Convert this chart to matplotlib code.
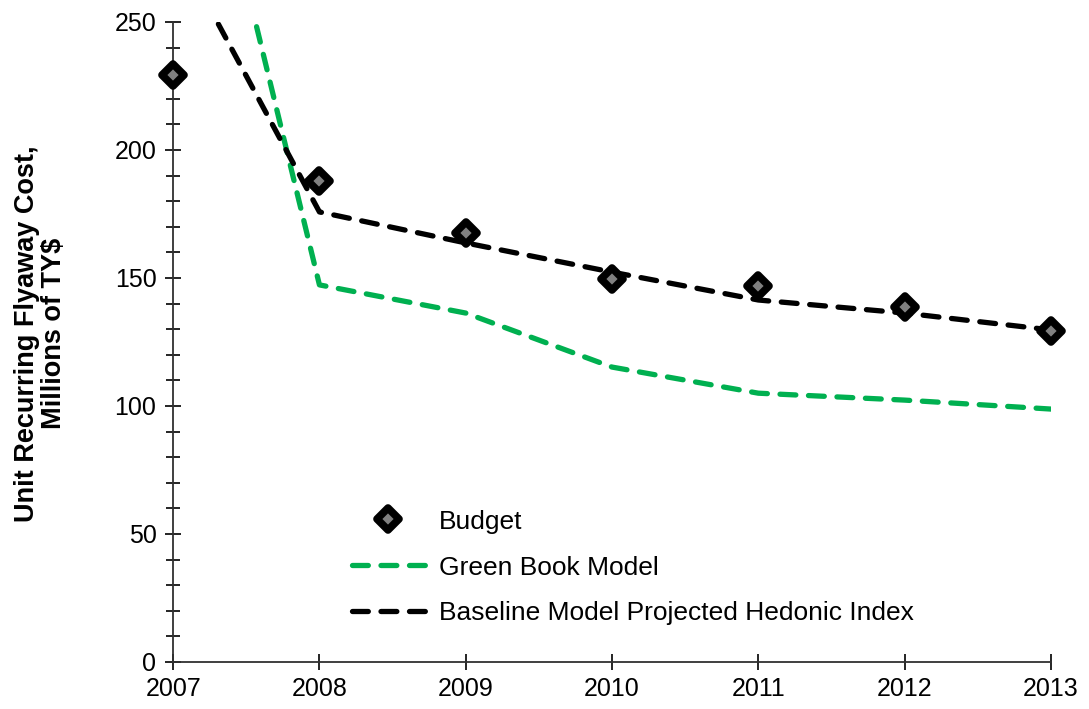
import numpy as np
import matplotlib.pyplot as plt
from matplotlib.ticker import MultipleLocator
from matplotlib.markers import MarkerStyle

plt.rcParams['font.family'] = ['Liberation Sans', 'DejaVu Sans']

years = [2007, 2008, 2009, 2010, 2011, 2012, 2013]
budget = [229.3, 187.9, 167.6, 149.6, 146.9, 138.7, 129.3]
green_book = [382, 147.3, 136.3, 115.2, 105.0, 102.3, 98.8]
baseline = [282, 175.8, 163.7, 152.3, 141.4, 136.3, 129.7]

fig = plt.figure(figsize=(10.89, 7.09), dpi=100)
ax = fig.add_axes([0.159, 0.0663, 0.806, 0.9027])

dash = (3.0, 2.4)
ax.plot(years, green_book, color='#00B050', lw=3.8, dashes=dash,
        dash_capstyle='round', solid_joinstyle='round', label='Green Book Model', zorder=2)
ax.plot(years, baseline, color='black', lw=3.8, dashes=dash,
        dash_capstyle='round', label='Baseline Model Projected Hedonic Index', zorder=3)
diamond = MarkerStyle('D', joinstyle='round')
ax.plot(years, budget, ls='none', marker=diamond, ms=11.5, mfc='#808080', mec='black',
        mew=5.5, label='Budget', zorder=4, clip_on=False)

ax.set_xlim(2007, 2013)
ax.set_ylim(0, 250)
ax.set_xticks(years)
ax.yaxis.set_major_locator(MultipleLocator(50))
ax.yaxis.set_minor_locator(MultipleLocator(10))
ax.tick_params(axis='both', which='major', direction='inout', length=12, width=1.2,
               labelsize=18, colors='black')
ax.tick_params(axis='y', which='minor', direction='inout', length=10, width=1.2)
ax.tick_params(axis='y', pad=6)
ax.tick_params(axis='x', pad=5)
for s in ['top', 'right']:
    ax.spines[s].set_visible(False)
for s in ['left', 'bottom']:
    ax.spines[s].set_linewidth(1.3)
    ax.spines[s].set_color('#303030')

fig.text(0.037, 0.53, 'Unit Recurring Flyaway Cost,\nMillions of TY$', fontsize=19.5,
         fontweight='bold', rotation=90, ha='center', va='center',
         multialignment='center', linespacing=1.05)

h, l = ax.get_legend_handles_labels()
order = [2, 0, 1]
ax.legend([h[i] for i in order], [l[i] for i in order], loc='upper left',
          bbox_to_anchor=(0.204, 0.238), frameon=False, fontsize=19,
          borderaxespad=0, borderpad=0,
          handlelength=2.75, labelspacing=0.83, handletextpad=0.55)

fig.savefig('out.png', dpi=100)
